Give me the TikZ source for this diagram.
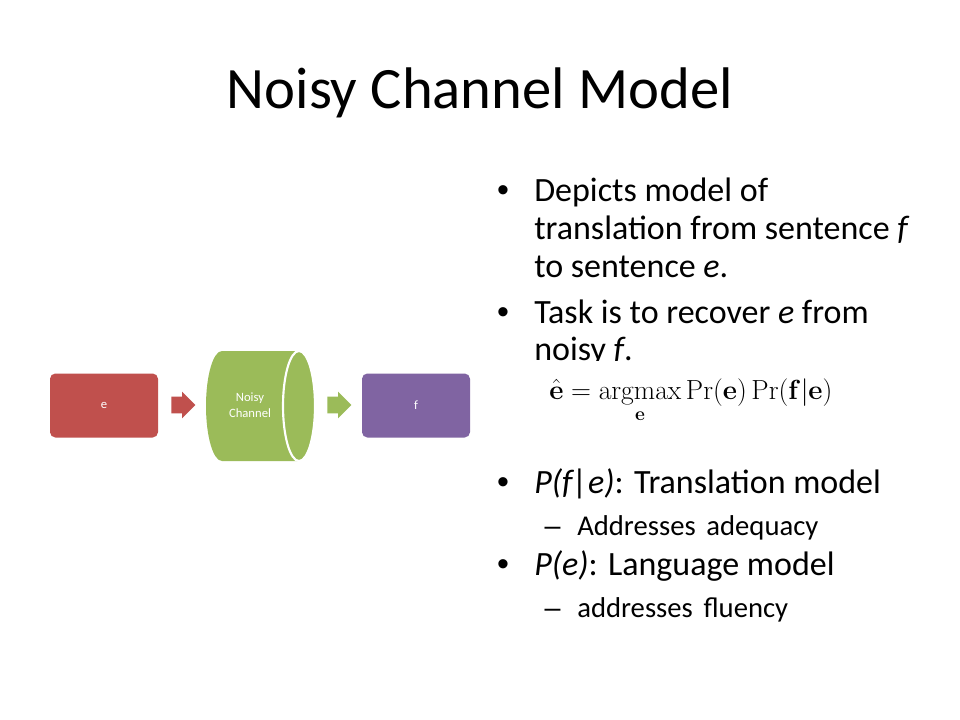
\documentclass[tikz,border=0pt]{standalone}
\usepackage{amsmath}
\usepackage[no-math]{fontspec}
\setmainfont{Carlito}
\newfontfamily\bulfont{Liberation Sans}
\usetikzlibrary{shapes.arrows, positioning}

\definecolor{boxred}{HTML}{C0504D}
\definecolor{boxgreen}{HTML}{9BBB59}
\definecolor{boxpurple}{HTML}{8064A2}

\newcommand{\subfont}{\fontsize{21.5}{26}\selectfont}
\newcommand{\wgap}{\hspace{8pt}}

\tikzset{
  stage/.style = {rectangle, rounded corners=4pt, inner sep=0pt, minimum width=81pt, minimum height=48pt, text=white, font=\fontsize{9.5}{11}\selectfont},
  flow/.style = {single arrow, single arrow head extend=3.75pt, inner xsep=0pt, inner ysep=6pt, minimum height=18pt, anchor=tail},
  bul/.style = {anchor=base west, inner sep=0pt, font=\fontsize{25.5}{30}\selectfont},
  subbul/.style = {anchor=base west, inner sep=0pt, font=\subfont},
  bulmark/.style = {anchor=base, inner sep=0pt}
}

\begin{document}
\begin{tikzpicture}[x=0.75pt, y=-0.75pt]
\fill[white] (0,0) rectangle (960,720);
\useasboundingbox (0,0) rectangle (960,720);

% title
\node[anchor=base, inner sep=0pt, font=\fontsize{44}{53}\selectfont] (title) at (480,109) {Noisy Channel Model};

% diagram
\node[stage, fill=boxred] (e) at (104,405.5) {e};
\node[flow, fill=boxred] (a1) at (171,405) {};
\fill[boxgreen] (222,351) -- (299,351) arc[start angle=90, end angle=-90, x radius=12pt, y radius=41.25pt]
  -- (222,461) arc[start angle=270, end angle=90, x radius=12pt, y radius=41.25pt] -- cycle;
\draw[white, line width=1.6pt] (299,406) ellipse [x radius=12pt, y radius=41.25pt];
\node[text=white, align=center, inner sep=0pt, font=\fontsize{9.5}{12}\selectfont] (chan) at (250,405) {Noisy\\Channel};
\node[flow, fill=boxgreen] (a2) at (327,405) {};
\node[stage, fill=boxpurple] (f) at (416,405.5) {f};

% bullets
\node[bul] (d1) at (534,202) {Depicts model of};
\node[bul] (d2) at (534,240) {translation from sentence \textit{f}};
\node[bul] (d3) at (534,277) {to sentence \textit{e}.};
\node[bul] (k1) at (534,323) {Task is to recover \textit{e} from};
\node[bul] (k2) at (534,360.5) {noisy \textit{f}.};
\node[anchor=base west, inner sep=0pt, fill=white, text height=28.5pt, font=\fontsize{20.5}{24}\selectfont] (eq) at (549,399)
  {$\displaystyle \hat{\mathbf{e}} = \operatorname*{argmax}_{\mathbf{e}} \Pr(\mathbf{e})\Pr(\mathbf{f}|\mathbf{e})$};
\node[bul] (p1) at (534,493) {\textit{P(f|e)}: Translation model};
\node[subbul] (s1) at (577,535) {Addresses\wgap adequacy};
\node[bul] (p2) at (534,575) {\textit{P(e)}: Language model};
\node[subbul] (s2) at (577,617) {addresses\wgap fluency};

\foreach \y in {202,323,493,575}
  \node[bulmark, font=\fontsize{25.5}{30}\bulfont] (dot\y) at (503,\y) {•};
\foreach \y in {535,617}
  \node[bulmark, font=\fontsize{21.5}{26}\bulfont] (dash\y) at (552.5,\y) {–};
\end{tikzpicture}
\end{document}
